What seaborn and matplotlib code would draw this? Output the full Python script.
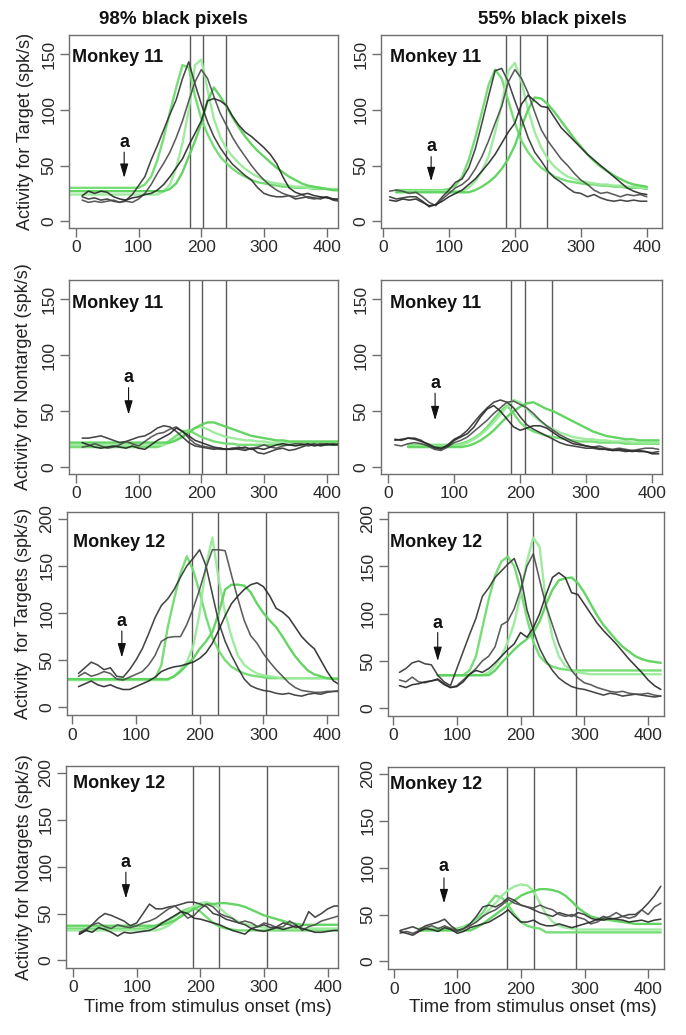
import matplotlib
matplotlib.use("Agg")
import matplotlib.pyplot as plt
import seaborn as sns

# ---------------- data (ms, spk/s) ----------------
STEP = 10  # sampling interval of every curve, ms

# Row 1: Monkey 11, targets
M11_TGT_98_BLACK_START = 10
M11_TGT_98_BLACK = [
    [22,20,21,19,20,18,17,19,24,32,40,55,68,82,96,109,128,143,123,105,89,76,66,58,51,46,41,37,30,25,23,22,22,23,20,21,22,21,20,22,19,18],
    [19,17,18,17,18,19,17,18,17,20,25,33,43,52,62,75,90,108,125,136,128,112,97,86,75,66,58,50,43,37,32,28,25,23,22,24,21,20,21,22,20,19],
    [23,27,25,27,26,22,20,19,21,22,24,25,28,33,40,48,56,68,79,90,108,110,108,104,94,86,80,76,71,66,60,52,40,30,26,24,25,23,22,21,20,20],
]
M11_TGT_98_GREEN_START = -10
M11_TGT_98_GREEN = [
    [30,30,30,30,30,30,30,30,30,30,30,30,33,40,55,75,98,120,140,138,112,92,78,67,58,52,47,43,40,37,35,34,33,32,31,31,30,30,30,29,29,29,28,28],
    [24,24,24,24,24,24,24,24,24,24,24,24,24,24,24,27,33,48,70,100,140,145,118,92,76,65,58,52,47,43,40,37,35,34,33,32,31,31,30,30,30,29,29,29],
    [27,27,27,27,27,27,27,27,27,27,27,27,27,27,27,27,29,34,44,58,72,88,108,120,112,103,93,84,76,69,63,58,53,48,44,40,37,34,32,31,30,29,28,28],
]
M11_TGT_98_VLINES = [182, 202, 240]
M11_TGT_98_ARROW = (77, 71, 62, 39)   # x, label y, arrow start y, arrow tip y

M11_TGT_55_BLACK_START = 10
M11_TGT_55_BLACK = [
    [22,20,21,22,22,18,13,15,22,28,35,38,48,65,88,112,135,137,125,108,92,75,62,54,45,39,35,30,26,25,22,24,21,19,18,19,18,19,18,18],
    [27,28,27,25,26,22,17,14,20,25,30,33,38,47,58,72,88,103,125,136,128,115,98,82,72,64,56,50,43,37,33,28,25,26,24,22,24,23,24,22],
    [19,18,20,19,20,17,14,15,18,22,25,28,33,38,45,52,60,70,80,88,105,113,108,103,102,93,84,78,72,66,60,55,50,45,40,35,30,27,25,24],
]
M11_TGT_55_GREEN_START = 20
M11_TGT_55_GREEN = [
    [28,28,28,28,28,28,28,28,29,32,40,55,75,98,122,136,128,108,88,72,62,54,48,44,40,38,36,35,34,33,33,32,32,31,31,30,30,30,29],
    [27,27,27,27,27,27,27,27,27,27,27,30,36,45,58,80,105,135,142,125,100,80,66,56,49,44,40,38,36,35,34,33,33,32,32,31,31,30,30],
    [26,26,26,26,26,26,26,26,26,26,26,26,28,31,35,40,47,56,68,85,100,111,110,105,98,90,82,74,67,60,54,49,45,41,38,35,33,32,31],
]
M11_TGT_55_VLINES = [186, 208, 248]
M11_TGT_55_ARROW = (73, 67, 58, 36)

# Row 2: Monkey 11, nontargets
M11_NT_98_BLACK_START = 10
M11_NT_98_BLACK = [
    [26,26,27,28,26,24,22,23,25,27,28,31,35,37,36,32,27,22,19,18,17,16,17,16,17,16,15,17,13,12,14,16,17,15,16,18,20,21,19,20,21,20],
    [18,19,21,19,17,18,20,23,21,19,23,27,30,31,34,36,32,26,21,19,18,17,16,16,17,18,16,17,18,20,18,17,19,20,21,21,19,20,21,20,20,21],
    [22,20,18,17,18,19,18,17,19,17,16,20,24,27,30,35,32,28,24,22,20,18,17,16,16,17,18,16,17,16,18,20,21,20,19,20,21,19,20,21,20,20],
]
M11_NT_98_GREEN_START = -10
M11_NT_98_GREEN = [
    [18,18,18,18,18,18,18,18,18,18,18,18,18,18,18,20,24,28,32,33,30,27,25,23,22,21,21,20,20,20,20,20,20,20,20,20,20,20,20,20,20,20,20,20],
    [20,20,20,20,20,20,20,20,20,20,20,20,20,20,20,20,22,25,28,32,35,36,34,31,29,27,26,25,24,24,23,23,22,22,22,22,22,22,22,22,22,22,22,22],
    [22,22,22,22,22,22,22,22,22,22,22,22,22,22,22,22,22,24,27,31,35,38,40,40,38,36,34,32,30,28,27,26,25,24,24,23,23,23,23,23,23,23,23,23],
]
M11_NT_98_VLINES = [181, 201, 239]
M11_NT_98_ARROW = (84, 80, 71, 47)

M11_NT_55_BLACK_START = 10
M11_NT_55_BLACK = [
    [24,25,26,26,24,20,17,16,20,25,28,33,40,47,53,58,60,58,53,45,38,34,31,28,25,22,20,19,18,17,17,16,16,15,15,14,15,14,14,13,14],
    [20,19,21,22,21,19,16,15,18,22,24,27,32,37,42,48,53,58,59,56,53,48,42,37,33,29,26,23,21,19,18,19,17,16,17,16,15,16,17,17,16],
    [25,24,26,25,23,21,18,17,19,24,27,30,36,45,52,55,50,43,36,33,35,37,37,35,31,27,24,21,20,19,18,17,16,15,16,15,14,15,14,12,12],
]
M11_NT_55_GREEN_START = 30
M11_NT_55_GREEN = [
    [20,20,20,20,20,20,20,20,21,23,26,30,36,43,50,55,48,40,35,32,30,28,27,26,25,24,23,23,23,22,22,22,22,21,21,21,21,21,21],
    [19,19,19,19,19,19,19,19,20,22,25,29,34,40,47,54,60,58,52,46,41,37,34,31,29,27,26,25,25,24,24,23,23,23,22,22,22,22,22],
    [18,18,18,18,18,18,18,18,18,19,21,24,28,33,39,45,50,54,57,58,55,52,50,47,44,41,38,35,32,30,28,27,26,25,25,24,24,24,24],
]
M11_NT_55_VLINES = [186, 207, 248]
M11_NT_55_ARROW = (71, 75, 66, 42)

# Row 3: Monkey 12, targets
M12_TGT_98_BLACK_START = 10
M12_TGT_98_BLACK = [
    [36,42,48,45,40,42,33,32,40,50,62,78,95,108,115,125,138,150,158,167,150,120,90,70,55,42,30,23,20,18,17,15,14,15,13,12,14,15,14,16,17,17],
    [33,37,33,35,38,36,30,29,32,35,38,45,55,70,74,75,75,88,105,125,148,167,167,166,140,115,92,76,68,57,48,40,33,26,21,18,17,16,16,17,17,18],
    [22,25,28,24,22,24,21,19,19,22,25,28,32,38,41,43,44,46,48,52,58,68,82,97,110,118,125,130,132,128,118,105,101,95,85,75,68,62,50,38,28,24],
]
M12_TGT_98_GREEN_START = -10
M12_TGT_98_GREEN = [
    [30,30,30,30,30,30,30,30,30,30,30,30,30,30,30,45,85,115,142,160,145,122,96,74,60,50,43,39,36,34,33,32,31,31,31,31,31,31,31,31,31,31,31,31],
    [29,29,29,29,29,29,29,29,29,29,29,29,29,29,29,29,29,33,40,48,65,100,150,180,135,100,75,55,45,40,36,34,33,32,31,31,31,31,31,31,31,31,31,31],
    [30,30,30,30,30,30,30,30,30,30,30,30,30,30,30,30,30,33,38,45,52,62,70,80,100,125,130,130,129,122,110,100,92,85,75,64,54,46,39,35,33,31,30,30],
]
M12_TGT_98_VLINES = [188, 229, 304]
M12_TGT_98_ARROW = (78, 91, 81, 53)

M12_TGT_55_BLACK_START = 10
M12_TGT_55_BLACK = [
    [38,42,48,50,47,46,35,28,24,42,60,78,95,118,127,138,145,152,158,140,104,82,63,50,40,32,27,23,21,20,18,16,14,16,15,13,14,15,14,13,12,13],
    [30,28,33,28,27,29,30,25,22,24,30,36,42,50,55,65,88,92,105,125,150,163,135,108,88,68,52,40,32,27,25,22,20,18,17,18,16,15,15,16,14,13],
    [24,22,25,26,28,29,31,26,22,23,28,36,40,38,42,48,55,62,68,80,75,85,100,120,138,143,138,122,120,110,100,90,82,75,68,60,52,45,38,30,24,20],
]
M12_TGT_55_GREEN_START = 70
M12_TGT_55_GREEN = [
    [35,35,35,35,35,40,55,85,115,140,155,160,150,125,95,70,55,48,44,42,41,40,40,40,40,40,40,40,40,40,40,40,40,40,40,40],
    [35,35,35,35,35,35,35,35,38,45,55,70,90,120,155,180,170,110,75,55,45,40,38,37,36,36,36,36,36,36,36,36,36,36,36,36],
    [35,35,35,35,35,35,35,35,35,40,48,55,62,68,73,80,92,110,125,135,137,138,132,122,110,98,88,80,72,65,60,55,52,50,49,48],
]
M12_TGT_55_VLINES = [178, 220, 287]
M12_TGT_55_ARROW = (70, 90, 80, 50)

# Row 4: Monkey 12, nontargets
M12_NT_98_BLACK_START = 10
M12_NT_98_BLACK = [
    [28,32,38,45,50,48,45,42,37,40,50,60,55,55,57,58,60,62,62,60,57,50,48,44,42,40,38,34,36,38,35,36,40,38,35,37,52,46,50,55,58,58],
    [30,33,38,40,36,34,38,36,35,37,40,42,45,50,55,58,52,45,48,55,60,57,50,47,45,40,42,40,36,40,38,35,36,42,38,32,36,38,42,44,46,48],
    [28,32,30,35,33,30,26,30,29,30,31,32,35,40,44,48,52,50,45,44,42,40,38,35,32,30,28,34,32,31,33,35,33,35,37,34,32,30,30,31,32,32],
]
M12_NT_98_GREEN_START = -10
M12_NT_98_GREEN = [
    [34,34,34,34,34,34,34,34,34,34,34,34,34,35,37,40,43,47,52,55,56,52,46,40,36,34,33,32,32,32,32,32,32,32,32,32,32,32,32,32,32,32,32,32],
    [32,32,32,32,32,32,32,32,32,32,32,32,32,32,32,34,37,42,48,54,58,61,62,60,56,50,45,41,39,37,36,35,34,34,34,34,34,34,34,34,34,34,34,34],
    [37,37,37,37,37,37,37,37,37,37,37,37,37,37,37,38,40,43,47,51,55,58,60,60,61,61,60,59,57,54,51,48,46,44,42,40,39,38,38,38,38,38,38,38],
]
M12_NT_98_VLINES = [188, 229, 304]
M12_NT_98_ARROW = (83, 104, 94, 66)

M12_NT_55_BLACK_START = 10
M12_NT_55_BLACK = [
    [33,35,37,34,38,40,42,45,38,33,35,40,48,58,60,58,62,68,65,60,58,55,52,50,48,52,50,48,52,50,46,44,48,45,46,48,50,50,55,62,70,80],
    [30,32,30,33,36,38,35,38,35,32,35,38,42,48,52,55,60,66,62,60,58,57,60,57,55,50,48,50,47,45,40,42,46,48,52,48,46,48,55,50,58,62],
    [32,30,28,32,35,34,32,36,34,30,32,36,38,40,42,46,50,55,48,42,42,44,40,38,38,40,38,36,38,40,42,45,44,46,45,44,42,43,44,42,44,45],
]
M12_NT_55_GREEN_START = 40
M12_NT_55_GREEN = [
    [35,35,35,35,35,35,35,37,40,45,52,62,70,68,60,50,42,38,36,35,31,31,31,31,31,31,31,31,31,31,31,31,31,31,31,31,31,31,31],
    [34,34,34,34,34,34,34,36,39,43,48,55,62,70,76,80,82,81,75,62,50,42,38,36,35,34,34,34,34,34,34,34,34,34,34,34,34,34,34],
    [33,33,33,33,33,33,33,33,33,36,40,45,50,55,60,65,70,73,75,77,77,76,74,70,64,57,52,48,46,45,44,43,42,41,40,40,40,40,40],
]
M12_NT_55_VLINES = [178, 220, 287]
M12_NT_55_ARROW = (79, 101, 89, 62)

COL_TITLES = ["98% black pixels", "55% black pixels"]
ROW_YLABELS = ["Activity for Target (spk/s)", "Activity for Nontarget (spk/s)",
               "Activity  for Targets (spk/s)", "Activity for Notargets (spk/s)"]
ROW_MONKEYS = ["Monkey 11", "Monkey 11", "Monkey 12", "Monkey 12"]
XTICKS = [0, 100, 200, 300, 400]
XLABEL = "Time from stimulus onset (ms)"

# ---------------- styling ----------------
sns.set_style("white")
plt.rcParams["font.family"] = ["Liberation Sans", "DejaVu Sans"]

BLACK_COLORS = ["#333333", "#4a4a4a", "#262626"]
GREEN_COLORS = ["#70dc70", "#9aea9a", "#5cd35c"]
AX_COLOR = "#6e6e6e"

W, H = 686.0, 1035.0
fig = plt.figure(figsize=(W / 100, H / 100), dpi=100)


def rect(l, t, r, b):
    return [l / W, 1 - b / H, (r - l) / W, (b - t) / H]


panels = [
    dict(row=0, col=0, rect=rect(69, 35, 338, 228), xlim=(-11, 418),
         black=M11_TGT_98_BLACK, bstart=M11_TGT_98_BLACK_START,
         green=M11_TGT_98_GREEN, gstart=M11_TGT_98_GREEN_START,
         vlines=M11_TGT_98_VLINES, arrow=M11_TGT_98_ARROW, mpos=(0.012, 0.886), ylx=-0.160),
    dict(row=0, col=1, rect=rect(381, 35, 662, 228), xlim=(-3, 423),
         black=M11_TGT_55_BLACK, bstart=M11_TGT_55_BLACK_START,
         green=M11_TGT_55_GREEN, gstart=M11_TGT_55_GREEN_START,
         vlines=M11_TGT_55_VLINES, arrow=M11_TGT_55_ARROW, mpos=(0.032, 0.886)),
    dict(row=1, col=0, rect=rect(69, 280, 338, 474), xlim=(-11, 418),
         black=M11_NT_98_BLACK, bstart=M11_NT_98_BLACK_START,
         green=M11_NT_98_GREEN, gstart=M11_NT_98_GREEN_START,
         vlines=M11_NT_98_VLINES, arrow=M11_NT_98_ARROW, mpos=(0.012, 0.88), ylx=-0.168),
    dict(row=1, col=1, rect=rect(381, 280, 662, 474), xlim=(-11, 415),
         black=M11_NT_55_BLACK, bstart=M11_NT_55_BLACK_START,
         green=M11_NT_55_GREEN, gstart=M11_NT_55_GREEN_START,
         vlines=M11_NT_55_VLINES, arrow=M11_NT_55_ARROW, mpos=(0.032, 0.88)),
    dict(row=2, col=0, rect=rect(67, 512, 338, 715), xlim=(-8, 417),
         black=M12_TGT_98_BLACK, bstart=M12_TGT_98_BLACK_START,
         green=M12_TGT_98_GREEN, gstart=M12_TGT_98_GREEN_START,
         vlines=M12_TGT_98_VLINES, arrow=M12_TGT_98_ARROW, mpos=(0.022, 0.848), ylx=-0.159),
    dict(row=2, col=1, rect=rect(388, 512, 664, 716), xlim=(-8, 425),
         black=M12_TGT_55_BLACK, bstart=M12_TGT_55_BLACK_START,
         green=M12_TGT_55_GREEN, gstart=M12_TGT_55_GREEN_START,
         vlines=M12_TGT_55_VLINES, arrow=M12_TGT_55_ARROW, mpos=(0.008, 0.85)),
    dict(row=3, col=0, rect=rect(66, 766, 338, 968), xlim=(-11, 416),
         black=M12_NT_98_BLACK, bstart=M12_NT_98_BLACK_START,
         green=M12_NT_98_GREEN, gstart=M12_NT_98_GREEN_START,
         vlines=M12_NT_98_VLINES, arrow=M12_NT_98_ARROW, mpos=(0.024, 0.915), ylx=-0.154),
    dict(row=3, col=1, rect=rect(388, 767, 664, 969), xlim=(-9, 425),
         black=M12_NT_55_BLACK, bstart=M12_NT_55_BLACK_START,
         green=M12_NT_55_GREEN, gstart=M12_NT_55_GREEN_START,
         vlines=M12_NT_55_VLINES, arrow=M12_NT_55_ARROW, mpos=(0.008, 0.915)),
]

for p in panels:
    ax = fig.add_axes(p["rect"])
    row = p["row"]
    for i, ys in enumerate(p["green"]):
        t = [p["gstart"] + STEP * k for k in range(len(ys))]
        sns.lineplot(x=t, y=ys, ax=ax, color=GREEN_COLORS[i], lw=1.7,
                     estimator=None, sort=False, alpha=0.95)
    for i, ys in enumerate(p["black"]):
        t = [p["bstart"] + STEP * k for k in range(len(ys))]
        sns.lineplot(x=t, y=ys, ax=ax, color=BLACK_COLORS[i], lw=1.15,
                     estimator=None, sort=False, alpha=0.9)
    for v in p["vlines"]:
        ax.axvline(v, color="#5a5a5a", lw=1.0, zorder=1)

    ax.set_xlim(*p["xlim"])
    if row < 2:
        ax.set_ylim(-6, 167)
        ax.set_yticks([0, 50, 100, 150])
    else:
        ax.set_ylim(-8, 207)
        ax.set_yticks([0, 50, 100, 150, 200])
    ax.set_xticks(XTICKS)

    for s in ax.spines.values():
        s.set_color(AX_COLOR)
        s.set_linewidth(1.0)
    ax.tick_params(bottom=True, left=True, direction="out", length=6.5, width=1.0,
                   color=AX_COLOR, labelsize=12.5, labelcolor="#2a2a2a", pad=2.5)
    for lab in ax.get_yticklabels():
        lab.set_rotation(90)
        lab.set_va("center")

    ax.set_xlabel("")
    if p["col"] == 0:
        ax.set_ylabel(ROW_YLABELS[row], fontsize=13, color="#222222", va="center")
        ax.yaxis.set_label_coords(p["ylx"], 0.5)
    else:
        ax.set_ylabel("")

    ax.text(p["mpos"][0], p["mpos"][1], ROW_MONKEYS[row], transform=ax.transAxes,
            fontsize=13, fontweight="bold", ha="left", va="center", color="#111111")

    ax_x, lab_y, a_start, a_tip = p["arrow"]
    ax.text(ax_x, lab_y, "a", ha="center", va="center", fontsize=13,
            fontweight="bold", color="#111111")
    ax.annotate("", xy=(ax_x, a_tip), xytext=(ax_x, a_start),
                arrowprops=dict(arrowstyle="-|>,head_length=0.85,head_width=0.25",
                                color="#111111", lw=0.8, shrinkA=0, shrinkB=0))

fig.text(173 / W, 1 - 19 / H, COL_TITLES[0], ha="center", va="center",
         fontsize=13.5, fontweight="bold", color="#111111")
fig.text(552 / W, 1 - 19 / H, COL_TITLES[1], ha="center", va="center",
         fontsize=13.5, fontweight="bold", color="#111111")
fig.text(208 / W, 1 - 1008 / H, XLABEL, ha="center", va="center",
         fontsize=13.3, color="#222222")
fig.text(533 / W, 1 - 1008 / H, XLABEL, ha="center", va="center",
         fontsize=13.3, color="#222222")

fig.savefig("out.png", dpi=100, facecolor="white")
